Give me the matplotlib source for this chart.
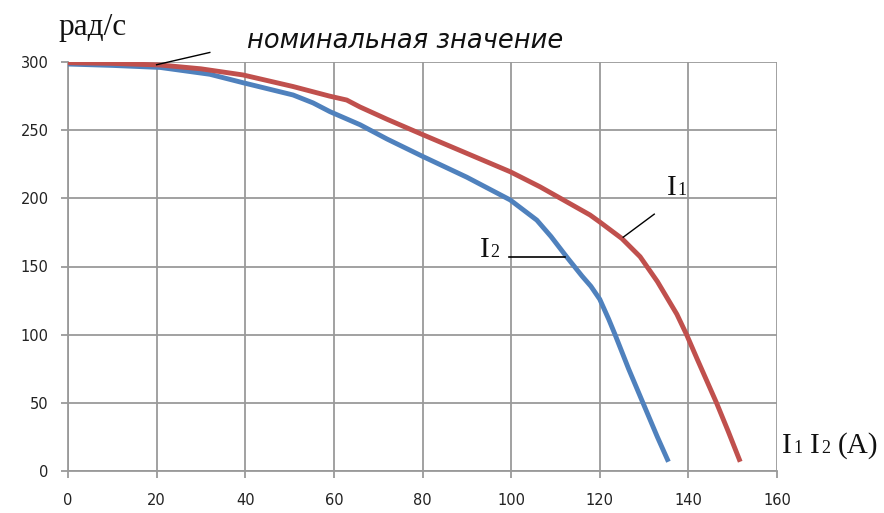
import matplotlib
matplotlib.use("Agg")
import matplotlib.pyplot as plt

# Data
i1_x = [0, 10, 20.8, 30, 39.5, 50.8, 59, 62.9, 65.9, 72, 80.2, 90, 99.8, 106.5, 111.8, 117.8,
        119.9, 125, 129.1, 133, 137.4, 139.6, 142, 146.4, 149, 151.7]
i1_y = [299.5, 299, 297.8, 295, 290.5, 282, 275, 272.1, 267, 258, 246.5, 233, 219.5, 208.5, 198.8, 187.8,
        182.9, 170.5, 157.2, 139, 115, 100, 82, 49.6, 29, 6.8]

i2_x = [0, 10, 20.8, 32, 39.5, 50.8, 55.3, 59.1, 65.9, 72, 80.2, 90, 99.8, 105.8, 109, 112.5,
        116, 118, 120, 122, 123.4, 126.5, 129.8, 133, 135.5]
i2_y = [298.5, 297.5, 296, 291, 284.8, 275.8, 270, 263.6, 254, 243.5, 230.5, 215.5, 198.8, 184, 172, 157.2,
        143, 135.5, 126, 111.5, 100.5, 75, 49.6, 25, 6.8]

x_ticks = [0, 20, 40, 60, 80, 100, 120, 140, 160]
y_ticks = [0, 50, 100, 150, 200, 250, 300]

RED = "#C0504D"
BLUE = "#4F81BD"
GRID = "#9a9a9a"
W, H = 884, 513

fig = plt.figure(figsize=(W / 100, H / 100), dpi=100)
ax = fig.add_axes([68 / W, 1 - 471 / H, (777 - 68) / W, (471 - 62) / H])

ax.plot(i2_x, i2_y, color=BLUE, lw=3.5, solid_capstyle="butt", solid_joinstyle="round", zorder=3)
ax.plot(i1_x, i1_y, color=RED, lw=3.5, solid_capstyle="butt", solid_joinstyle="round", zorder=3)

ax.set_xlim(0, 160)
ax.set_ylim(0, 300)
ax.set_xticks(x_ticks)
ax.set_yticks(y_ticks)
ax.grid(True, color=GRID, lw=1.3)
ax.set_axisbelow(True)
for s in ["top", "right"]:
    ax.spines[s].set_visible(False)
for s in ["left", "bottom"]:
    ax.spines[s].set_color(GRID)
    ax.spines[s].set_linewidth(1.3)
ax.tick_params(axis="both", colors=GRID, length=5, width=1.3, labelcolor="#222222", labelsize=10.5)
ax.tick_params(axis="x", pad=11)
ax.tick_params(axis="y", pad=9)

serif = "Liberation Serif"
TXT = "#111111"


def ptext(px, py, s, size):
    fig.text(px / W, 1 - py / H, s, fontfamily=serif, fontsize=size, color=TXT,
             ha="left", va="baseline")


def sub_label(x, y, letter, digit, big, small, dx):
    ax.annotate(letter, (x, y), fontfamily=serif, fontsize=big, color=TXT,
                ha="left", va="baseline", annotation_clip=False)
    ax.annotate(digit, (x, y), xytext=(dx, 0), textcoords="offset points", fontfamily=serif,
                fontsize=small, color=TXT, ha="left", va="baseline", annotation_clip=False)


# y-axis unit
ptext(58, 35, "рад/с", 22.5)

# x-axis unit "I1 I2 (A)"
ptext(782, 453, "I", 21)
ptext(793, 453, "1", 13)
ptext(810, 453, "I", 21)
ptext(821, 453, "2", 13)
ptext(838, 453, "(A)", 21)

ax.text(40.4, 310, "номинальная значение", fontstyle="oblique", fontsize=18.5, color=TXT,
        fontfamily="DejaVu Sans", ha="left", va="baseline", clip_on=False)
ax.plot([20, 32], [298, 307], color="black", lw=1, clip_on=False, zorder=4)

sub_label(135.2, 202.4, "I", "1", 21, 13, 7.6)
ax.plot([125.3, 132.3], [171.5, 188.4], color="black", lw=1, zorder=4)

sub_label(93, 157, "I", "2", 21, 13, 7.6)
ax.plot([99.5, 112.2], [157, 157], color="black", lw=1.2, zorder=4)

fig.savefig("out.png", dpi=100, facecolor="white")
